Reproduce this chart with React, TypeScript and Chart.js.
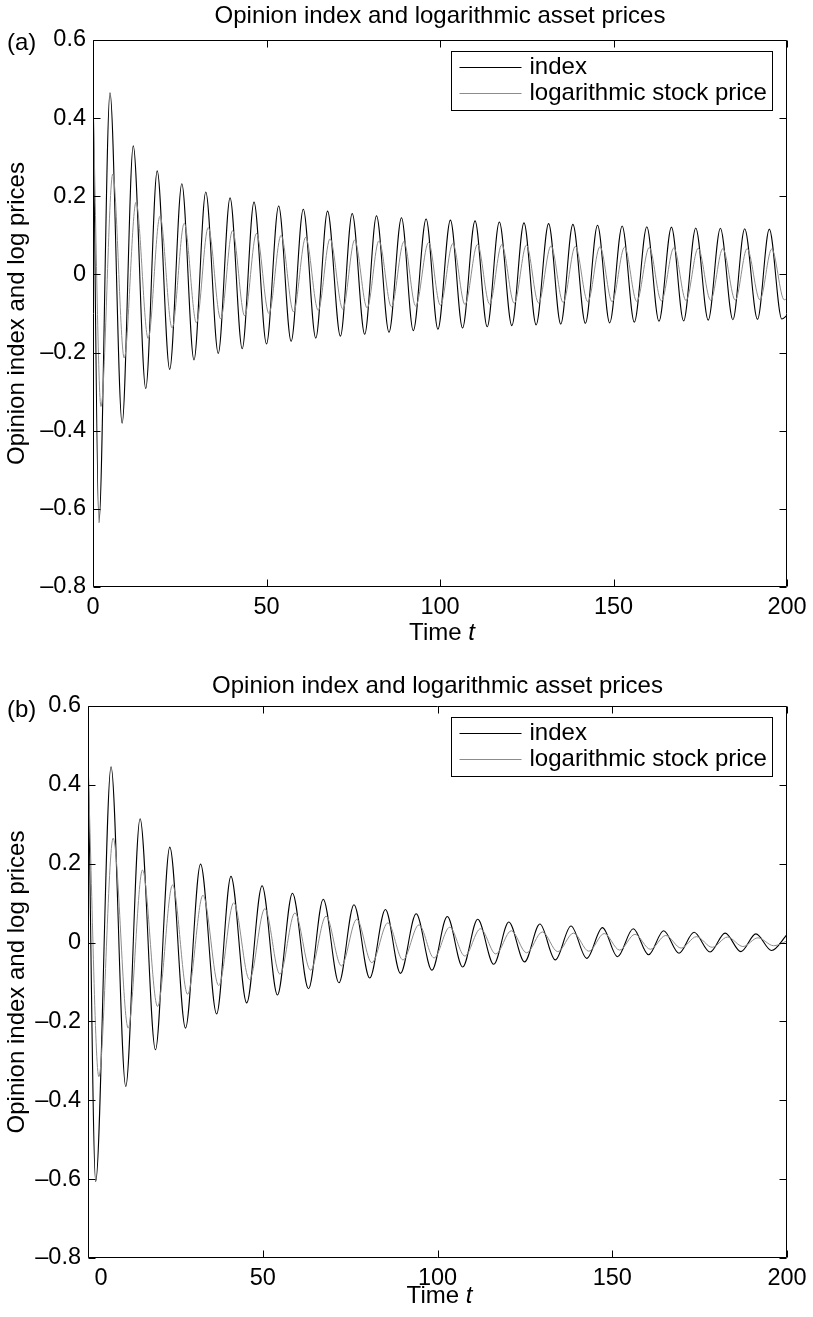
import React, { useEffect, useRef } from "react";
import { Chart, registerables } from "chart.js";

Chart.register(...registerables);

const FONT = '"Liberation Sans", Arial, Helvetica, sans-serif';
const TEXT_SIZE = 24;

// ---------- shared texts and ticks ----------
const titleText = "Opinion index and logarithmic asset prices";
const yTitleText = "Opinion index and log prices";
const xTitleText = "Time ";
const xTitleItalic = "t";
const legendLabels = ["index", "logarithmic stock price"];
const xTicks = [0, 50, 100, 150, 200];
const yTicks = [-0.8, -0.6, -0.4, -0.2, 0, 0.2, 0.4, 0.6];

// ---------- panel (a) ----------
const indexTimesA = [
  0, 1.7, 4.9, 8.4, 11.6, 15.2, 18.5, 22.1, 25.6, 29.1, 32.5, 36.1, 39.5, 43.0, 46.4, 50.0,
  53.5, 57.1, 60.6, 64.2, 67.6, 71.3, 74.7, 78.3, 81.7, 85.3, 88.9, 92.3, 96.0, 99.4, 103.0,
  106.5, 110.1, 113.6, 117.1, 120.7, 124.2, 127.7, 131.3, 134.8, 138.3, 141.9, 145.4, 148.9,
  152.5, 156.0, 159.6, 163.1, 166.7, 170.2, 173.7, 177.3, 180.8, 184.4, 187.8, 191.5, 194.9,
  198.5, 200,
];
const indexValuesA = [
  0.5, -0.635, 0.465, -0.381, 0.329, -0.292, 0.265, -0.243, 0.232, -0.219, 0.211, -0.202,
  0.196, -0.19, 0.185, -0.178, 0.175, -0.171, 0.167, -0.163, 0.162, -0.158, 0.156, -0.153,
  0.15, -0.148, 0.145, -0.144, 0.142, -0.14, 0.139, -0.137, 0.137, -0.134, 0.134, -0.131,
  0.132, -0.129, 0.13, -0.127, 0.128, -0.125, 0.126, -0.124, 0.124, -0.122, 0.122, -0.12,
  0.121, -0.119, 0.119, -0.117, 0.118, -0.116, 0.117, -0.115, 0.116, -0.114, -0.105,
];
const priceTimesA = [
  0, 2.3, 5.7, 9.0, 12.4, 15.9, 19.3, 22.8, 26.3, 29.8, 33.2, 36.8, 40.2, 43.7, 47.1, 50.7,
  54.2, 57.8, 61.3, 64.9, 68.3, 72.0, 75.4, 79.0, 82.4, 86.0, 89.6, 93.0, 96.7, 100.1, 103.7,
  107.2, 110.8, 114.3, 117.8, 121.4, 124.9, 128.4, 132.0, 135.5, 139.0, 142.6, 146.1, 149.6,
  153.2, 156.7, 160.3, 163.8, 167.4, 170.9, 174.4, 178.0, 181.5, 185.1, 188.5, 192.2, 195.6,
  199.2, 200,
];
const priceValuesA = [
  0.45, -0.338, 0.257, -0.214, 0.185, -0.164, 0.149, -0.137, 0.131, -0.124, 0.12, -0.114,
  0.112, -0.106, 0.105, -0.1, 0.1, -0.096, 0.095, -0.092, 0.091, -0.089, 0.088, -0.086,
  0.086, -0.083, 0.084, -0.081, 0.082, -0.079, 0.079, -0.077, 0.077, -0.076, 0.076, -0.074,
  0.075, -0.073, 0.073, -0.072, 0.072, -0.07, 0.071, -0.07, 0.07, -0.069, 0.069, -0.068,
  0.068, -0.067, 0.067, -0.066, 0.066, -0.066, 0.066, -0.065, 0.065, -0.065, -0.062,
];

// ---------- panel (b) ----------
const indexTimesB = [
  0, 2.2, 6.6, 10.8, 14.9, 19.3, 23.4, 27.9, 32.2, 36.8, 40.9, 45.4, 49.8, 54.2, 58.5, 63.1,
  67.3, 71.8, 76.1, 80.6, 85.1, 89.4, 93.9, 98.4, 102.8, 107.2, 111.5, 116.1, 120.4, 124.9,
  129.3, 133.7, 138.2, 142.7, 147.2, 151.5, 156.0, 160.4, 164.7, 169.1, 173.4, 178.0, 182.3,
  186.8, 191.1, 195.6, 200,
];
const indexValuesB = [
  0.497, -0.606, 0.446, -0.365, 0.314, -0.272, 0.242, -0.217, 0.199, -0.181, 0.168, -0.153,
  0.144, -0.133, 0.125, -0.117, 0.11, -0.102, 0.096, -0.09, 0.084, -0.078, 0.073, -0.07,
  0.066, -0.062, 0.059, -0.055, 0.052, -0.049, 0.047, -0.044, 0.042, -0.04, 0.038, -0.036,
  0.035, -0.031, 0.03, -0.027, 0.026, -0.024, 0.024, -0.023, 0.022, -0.02, 0.02,
];
const priceTimesB = [
  0, 3.1, 7.2, 11.5, 15.6, 19.9, 24.2, 28.5, 32.9, 37.4, 41.7, 46.2, 50.6, 54.9, 59.2, 63.7,
  68.1, 72.5, 76.9, 81.2, 85.8, 90.1, 94.7, 99.0, 103.5, 107.8, 112.3, 116.7, 121.1, 125.5,
  130.0, 134.4, 138.9, 143.3, 147.7, 152.1, 156.5, 160.9, 165.3, 169.7, 174.1, 178.6, 183.0,
  187.4, 191.7, 196.2, 200,
];
const priceValuesB = [
  0.45, -0.34, 0.265, -0.217, 0.184, -0.162, 0.146, -0.131, 0.12, -0.109, 0.101, -0.094,
  0.086, -0.08, 0.075, -0.07, 0.067, -0.059, 0.059, -0.051, 0.05, -0.044, 0.045, -0.039,
  0.039, -0.034, 0.035, -0.029, 0.03, -0.026, 0.027, -0.023, 0.024, -0.022, 0.023, -0.019,
  0.021, -0.017, 0.018, -0.014, 0.015, -0.012, 0.014, -0.01, 0.012, -0.008, 0.004,
];

type PanelCfg = {
  label: string;
  top: number;
  height: number;
  left: number;
  areaTop: number;
  areaBottom: number;
  titleBase: number;
  labelBase: number;
  yTitleX: number;
  xTitleBase: number;
  shiftFirstX: boolean;
  indexT: number[];
  indexV: number[];
  priceT: number[];
  priceV: number[];
};

const panels: PanelCfg[] = [
  {
    label: "(a)", top: 0, height: 660, left: 93, areaTop: 40, areaBottom: 587,
    titleBase: 23, labelBase: 50, yTitleX: 24, xTitleBase: 640, shiftFirstX: false,
    indexT: indexTimesA, indexV: indexValuesA, priceT: priceTimesA, priceV: priceValuesA,
  },
  {
    label: "(b)", top: 660, height: 657, left: 88, areaTop: 46, areaBottom: 598,
    titleBase: 33, labelBase: 56.5, yTitleX: 23.5, xTitleBase: 643, shiftFirstX: true,
    indexT: indexTimesB, indexV: indexValuesB, priceT: priceTimesB, priceV: priceValuesB,
  },
];

const RIGHT = 787;
const W = 813;
const GRAY = "#8c8c8c";

function fmtY(v: number): string {
  if (Math.abs(v) < 1e-9) return "0";
  return (v < 0 ? "\u2013" : "") + Math.abs(v).toFixed(1);
}

function makeOverlay(cfg: PanelCfg) {
  return {
    id: "overlay",
    afterDraw(chart: any) {
      const { ctx, chartArea: a } = chart;
      const xs = chart.scales.x;
      const ys = chart.scales.y;
      ctx.save();
      ctx.strokeStyle = "#000";
      ctx.lineWidth = 1;
      const L = Math.round(a.left) + 0.5;
      const R = Math.round(a.right) - 0.5;
      const T = Math.round(a.top) + 0.5;
      const B = Math.round(a.bottom) - 0.5;
      ctx.beginPath();
      ctx.rect(L, T, R - L, B - T);
      ctx.stroke();
      const tl = 7;
      ctx.beginPath();
      for (const v of xTicks) {
        const px = Math.round(xs.getPixelForValue(v)) + 0.5;
        ctx.moveTo(px, B);
        ctx.lineTo(px, B - tl);
        ctx.moveTo(px, T);
        ctx.lineTo(px, T + tl);
      }
      for (const v of yTicks) {
        const py = Math.round(ys.getPixelForValue(v)) + 0.5;
        ctx.moveTo(L, py);
        ctx.lineTo(L + tl, py);
        ctx.moveTo(R, py);
        ctx.lineTo(R - tl, py);
      }
      ctx.stroke();

      // legend
      const lx = Math.round(a.right - 15 - 321) + 0.5;
      const ly = Math.round(a.top + 11) + 0.5;
      ctx.fillStyle = "#fff";
      ctx.fillRect(lx, ly, 321, 59);
      ctx.strokeStyle = "#000";
      ctx.lineWidth = 1;
      ctx.strokeRect(lx, ly, 321, 59);
      const rows = [ly + 15, ly + 41];
      const colors = ["#000", GRAY];
      ctx.font = `${TEXT_SIZE}px ${FONT}`;
      ctx.textBaseline = "middle";
      ctx.textAlign = "left";
      rows.forEach((ry, i) => {
        ctx.strokeStyle = colors[i];
        ctx.beginPath();
        ctx.moveTo(lx + 8, Math.round(ry) + 0.5);
        ctx.lineTo(lx + 70, Math.round(ry) + 0.5);
        ctx.stroke();
        ctx.fillStyle = "#000";
        ctx.fillText(legendLabels[i], lx + 78, ry + 1);
      });

      // title
      ctx.fillStyle = "#000";
      ctx.textBaseline = "alphabetic";
      ctx.textAlign = "center";
      ctx.font = `${TEXT_SIZE}px ${FONT}`;
      const cx = (a.left + a.right) / 2;
      ctx.fillText(titleText, cx, cfg.titleBase);

      // panel label
      ctx.textAlign = "left";
      ctx.fillText(cfg.label, 7, cfg.labelBase);

      // x title: "Time t"
      const regW = ctx.measureText(xTitleText).width;
      ctx.font = `italic ${TEXT_SIZE}px ${FONT}`;
      const itW = ctx.measureText(xTitleItalic).width;
      const start = cx + 2 - (regW + itW) / 2;
      ctx.font = `${TEXT_SIZE}px ${FONT}`;
      ctx.fillText(xTitleText, start, cfg.xTitleBase);
      ctx.font = `italic ${TEXT_SIZE}px ${FONT}`;
      ctx.fillText(xTitleItalic, start + regW, cfg.xTitleBase);

      // y title
      ctx.font = `${TEXT_SIZE}px ${FONT}`;
      ctx.translate(cfg.yTitleX, (a.top + a.bottom) / 2);
      ctx.rotate(-Math.PI / 2);
      ctx.textAlign = "center";
      ctx.fillText(yTitleText, 0, 0);
      ctx.restore();
    },
  };
}

function Panel({ cfg }: { cfg: PanelCfg }) {
  const ref = useRef<HTMLCanvasElement | null>(null);
  useEffect(() => {
    if (!ref.current) return;
    const tickFont = { family: FONT, size: 23.5 };
    const chart = new Chart(ref.current, {
      type: "line",
      data: {
        datasets: [
          {
            label: legendLabels[0],
            data: cfg.indexT.map((t, i) => ({ x: t, y: cfg.indexV[i] })),
            borderColor: "#000",
            borderWidth: 1.1,
            pointRadius: 0,
            cubicInterpolationMode: "monotone",
            fill: false,
            order: 1,
          },
          {
            label: legendLabels[1],
            data: cfg.priceT.map((t, i) => ({ x: t, y: cfg.priceV[i] })),
            borderColor: GRAY,
            borderWidth: 1,
            pointRadius: 0,
            cubicInterpolationMode: "monotone",
            fill: false,
            order: 0,
          },
        ],
      },
      options: {
        animation: false,
        responsive: false,
        events: [],
        layout: {
          padding: {
            left: 0,
            right: W - RIGHT,
            top: cfg.areaTop,
            bottom: cfg.height - cfg.areaBottom - 40,
          },
        },
        plugins: {
          legend: { display: false },
          title: { display: false },
          tooltip: { enabled: false },
        },
        scales: {
          x: {
            type: "linear",
            min: 0,
            max: 200,
            afterBuildTicks: (s: any) => {
              s.ticks = xTicks.map((v) => ({ value: v }));
            },
            afterFit: (s: any) => {
              s.height = 40;
            },
            grid: { display: false, drawTicks: false },
            border: { display: false },
            ticks: {
              font: tickFont,
              color: "#000",
              padding: 6,
              maxRotation: 0,
              autoSkip: false,
              callback: (v: any) =>
                cfg.shiftFirstX && Number(v) === 0 ? "\u2007\u20070" : String(v),
            },
          },
          y: {
            type: "linear",
            min: -0.8,
            max: 0.6,
            afterBuildTicks: (s: any) => {
              s.ticks = yTicks.map((v) => ({ value: v }));
            },
            afterFit: (s: any) => {
              s.width = cfg.left;
            },
            grid: { display: false, drawTicks: false },
            border: { display: false },
            ticks: {
              font: tickFont,
              color: "#000",
              padding: 7,
              autoSkip: false,
              callback: (v: any) => fmtY(Number(v)),
            },
          },
        },
      },
      plugins: [makeOverlay(cfg)],
    } as any);
    return () => chart.destroy();
  }, [cfg]);
  return (
    <canvas
      ref={ref}
      width={W}
      height={cfg.height}
      style={{ position: "absolute", left: 0, top: cfg.top, width: W, height: cfg.height }}
    />
  );
}

export default function App() {
  return (
    <div
      style={{
        position: "absolute",
        left: 0,
        top: 0,
        width: W,
        height: 1317,
        background: "#fff",
        overflow: "hidden",
      }}
    >
      {panels.map((p) => (
        <Panel key={p.label} cfg={p} />
      ))}
    </div>
  );
}
